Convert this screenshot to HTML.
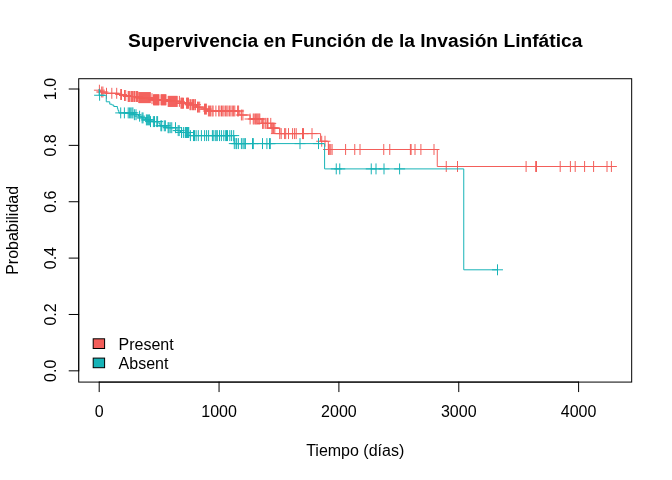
<!DOCTYPE html>
<html lang="es">
<head>
<meta charset="utf-8">
<title>Supervivencia en Función de la Invasión Linfática</title>
<style>html,body{margin:0;padding:0;background:#fff}svg{display:block;will-change:transform}</style>
</head>
<body>
<svg width="672" height="480" viewBox="0 0 672 480">
<rect width="672" height="480" fill="#fff"/>
<g fill="none" stroke-width="1" stroke-linecap="round" stroke-linejoin="round">
<path stroke="#F35E5A" d="M99.20,89.00H99.20V90.20H100.50V92.00H105.00V93.30H119.00V94.50H123.00V95.50H127.50V96.50H138.30V97.60H151.50V98.70H153.00V99.80H167.50V101.40H180.30V103.20H189.30V104.70H196.50V107.10H200.50V108.00H203.80V109.10H207.30V111.00H239.80V115.00H250.00V119.00H261.30V123.40H271.20V128.10H279.75V133.60H320.60V141.25H328.30V149.50H437.25V166.50H611.40"/>
<g stroke="#F35E5A">
<path d="M94.31,90.20h10.18M99.40,85.11v10.18"/>
<path d="M96.61,92.00h10.18M101.70,86.91v10.18"/>
<path d="M97.81,92.00h10.18M102.90,86.91v10.18"/>
<path d="M101.41,93.30h10.18M106.50,88.21v10.18"/>
<path d="M106.71,93.30h10.18M111.80,88.21v10.18"/>
<path d="M111.61,93.30h10.18M116.70,88.21v10.18"/>
<path d="M115.61,94.50h10.18M120.70,89.41v10.18"/>
<path d="M116.41,94.50h10.18M121.50,89.41v10.18"/>
<path d="M119.41,95.50h10.18M124.50,90.41v10.18"/>
<path d="M120.61,95.50h10.18M125.70,90.41v10.18"/>
<path d="M123.11,96.50h10.18M128.20,91.41v10.18"/>
<path d="M123.61,96.50h10.18M128.70,91.41v10.18"/>
<path d="M124.31,96.50h10.18M129.40,91.41v10.18"/>
<path d="M125.91,96.50h10.18M131.00,91.41v10.18"/>
<path d="M126.31,96.50h10.18M131.40,91.41v10.18"/>
<path d="M127.51,96.50h10.18M132.60,91.41v10.18"/>
<path d="M127.91,96.50h10.18M133.00,91.41v10.18"/>
<path d="M129.01,96.50h10.18M134.10,91.41v10.18"/>
<path d="M129.41,96.50h10.18M134.50,91.41v10.18"/>
<path d="M130.91,96.50h10.18M136.00,91.41v10.18"/>
<path d="M131.31,96.50h10.18M136.40,91.41v10.18"/>
<path d="M132.16,96.50h10.18M137.25,91.41v10.18"/>
<path d="M132.61,96.50h10.18M137.70,91.41v10.18"/>
<path d="M133.71,97.60h10.18M138.80,92.51v10.18"/>
<path d="M134.21,97.60h10.18M139.30,92.51v10.18"/>
<path d="M134.71,97.60h10.18M139.80,92.51v10.18"/>
<path d="M135.21,97.60h10.18M140.30,92.51v10.18"/>
<path d="M135.71,97.60h10.18M140.80,92.51v10.18"/>
<path d="M136.21,97.60h10.18M141.30,92.51v10.18"/>
<path d="M136.71,97.60h10.18M141.80,92.51v10.18"/>
<path d="M137.21,97.60h10.18M142.30,92.51v10.18"/>
<path d="M137.71,97.60h10.18M142.80,92.51v10.18"/>
<path d="M138.21,97.60h10.18M143.30,92.51v10.18"/>
<path d="M138.71,97.60h10.18M143.80,92.51v10.18"/>
<path d="M139.21,97.60h10.18M144.30,92.51v10.18"/>
<path d="M139.71,97.60h10.18M144.80,92.51v10.18"/>
<path d="M140.21,97.60h10.18M145.30,92.51v10.18"/>
<path d="M140.71,97.60h10.18M145.80,92.51v10.18"/>
<path d="M141.21,97.60h10.18M146.30,92.51v10.18"/>
<path d="M141.71,97.60h10.18M146.80,92.51v10.18"/>
<path d="M142.21,97.60h10.18M147.30,92.51v10.18"/>
<path d="M142.71,97.60h10.18M147.80,92.51v10.18"/>
<path d="M143.21,97.60h10.18M148.30,92.51v10.18"/>
<path d="M143.71,97.60h10.18M148.80,92.51v10.18"/>
<path d="M144.21,97.60h10.18M149.30,92.51v10.18"/>
<path d="M144.71,97.60h10.18M149.80,92.51v10.18"/>
<path d="M145.21,97.60h10.18M150.30,92.51v10.18"/>
<path d="M146.91,98.70h10.18M152.00,93.61v10.18"/>
<path d="M148.41,99.80h10.18M153.50,94.71v10.18"/>
<path d="M148.91,99.80h10.18M154.00,94.71v10.18"/>
<path d="M149.41,99.80h10.18M154.50,94.71v10.18"/>
<path d="M149.91,99.80h10.18M155.00,94.71v10.18"/>
<path d="M150.41,99.80h10.18M155.50,94.71v10.18"/>
<path d="M150.91,99.80h10.18M156.00,94.71v10.18"/>
<path d="M151.41,99.80h10.18M156.50,94.71v10.18"/>
<path d="M151.91,99.80h10.18M157.00,94.71v10.18"/>
<path d="M152.41,99.80h10.18M157.50,94.71v10.18"/>
<path d="M152.91,99.80h10.18M158.00,94.71v10.18"/>
<path d="M153.41,99.80h10.18M158.50,94.71v10.18"/>
<path d="M153.91,99.80h10.18M159.00,94.71v10.18"/>
<path d="M155.91,99.80h10.18M161.00,94.71v10.18"/>
<path d="M156.41,99.80h10.18M161.50,94.71v10.18"/>
<path d="M156.91,99.80h10.18M162.00,94.71v10.18"/>
<path d="M157.41,99.80h10.18M162.50,94.71v10.18"/>
<path d="M157.91,99.80h10.18M163.00,94.71v10.18"/>
<path d="M158.41,99.80h10.18M163.50,94.71v10.18"/>
<path d="M158.91,99.80h10.18M164.00,94.71v10.18"/>
<path d="M159.41,99.80h10.18M164.50,94.71v10.18"/>
<path d="M159.91,99.80h10.18M165.00,94.71v10.18"/>
<path d="M160.41,99.80h10.18M165.50,94.71v10.18"/>
<path d="M160.91,99.80h10.18M166.00,94.71v10.18"/>
<path d="M163.11,101.40h10.18M168.20,96.31v10.18"/>
<path d="M163.61,101.40h10.18M168.70,96.31v10.18"/>
<path d="M164.11,101.40h10.18M169.20,96.31v10.18"/>
<path d="M164.61,101.40h10.18M169.70,96.31v10.18"/>
<path d="M165.11,101.40h10.18M170.20,96.31v10.18"/>
<path d="M165.61,101.40h10.18M170.70,96.31v10.18"/>
<path d="M166.11,101.40h10.18M171.20,96.31v10.18"/>
<path d="M166.61,101.40h10.18M171.70,96.31v10.18"/>
<path d="M167.11,101.40h10.18M172.20,96.31v10.18"/>
<path d="M167.61,101.40h10.18M172.70,96.31v10.18"/>
<path d="M168.11,101.40h10.18M173.20,96.31v10.18"/>
<path d="M168.61,101.40h10.18M173.70,96.31v10.18"/>
<path d="M169.11,101.40h10.18M174.20,96.31v10.18"/>
<path d="M169.61,101.40h10.18M174.70,96.31v10.18"/>
<path d="M170.11,101.40h10.18M175.20,96.31v10.18"/>
<path d="M170.61,101.40h10.18M175.70,96.31v10.18"/>
<path d="M171.11,101.40h10.18M176.20,96.31v10.18"/>
<path d="M171.61,101.40h10.18M176.70,96.31v10.18"/>
<path d="M172.11,101.40h10.18M177.20,96.31v10.18"/>
<path d="M174.31,101.40h10.18M179.40,96.31v10.18"/>
<path d="M175.91,103.20h10.18M181.00,98.11v10.18"/>
<path d="M176.31,103.20h10.18M181.40,98.11v10.18"/>
<path d="M177.16,103.20h10.18M182.25,98.11v10.18"/>
<path d="M177.51,103.20h10.18M182.60,98.11v10.18"/>
<path d="M178.41,103.20h10.18M183.50,98.11v10.18"/>
<path d="M181.51,103.20h10.18M186.60,98.11v10.18"/>
<path d="M181.91,103.20h10.18M187.00,98.11v10.18"/>
<path d="M182.41,103.20h10.18M187.50,98.11v10.18"/>
<path d="M182.91,103.20h10.18M188.00,98.11v10.18"/>
<path d="M183.41,103.20h10.18M188.50,98.11v10.18"/>
<path d="M184.91,104.70h10.18M190.00,99.61v10.18"/>
<path d="M185.31,104.70h10.18M190.40,99.61v10.18"/>
<path d="M186.91,104.70h10.18M192.00,99.61v10.18"/>
<path d="M187.31,104.70h10.18M192.40,99.61v10.18"/>
<path d="M188.41,104.70h10.18M193.50,99.61v10.18"/>
<path d="M188.81,104.70h10.18M193.90,99.61v10.18"/>
<path d="M189.91,104.70h10.18M195.00,99.61v10.18"/>
<path d="M190.31,104.70h10.18M195.40,99.61v10.18"/>
<path d="M192.41,107.10h10.18M197.50,102.01v10.18"/>
<path d="M193.51,107.10h10.18M198.60,102.01v10.18"/>
<path d="M194.61,107.10h10.18M199.70,102.01v10.18"/>
<path d="M199.41,109.10h10.18M204.50,104.01v10.18"/>
<path d="M200.41,109.10h10.18M205.50,104.01v10.18"/>
<path d="M201.31,109.10h10.18M206.40,104.01v10.18"/>
<path d="M203.31,111.00h10.18M208.40,105.91v10.18"/>
<path d="M204.51,111.00h10.18M209.60,105.91v10.18"/>
<path d="M205.51,111.00h10.18M210.60,105.91v10.18"/>
<path d="M207.01,111.00h10.18M212.10,105.91v10.18"/>
<path d="M208.01,111.00h10.18M213.10,105.91v10.18"/>
<path d="M210.81,111.00h10.18M215.90,105.91v10.18"/>
<path d="M213.61,111.00h10.18M218.70,105.91v10.18"/>
<path d="M214.81,111.00h10.18M219.90,105.91v10.18"/>
<path d="M216.41,111.00h10.18M221.50,105.91v10.18"/>
<path d="M217.66,111.00h10.18M222.75,105.91v10.18"/>
<path d="M218.91,111.00h10.18M224.00,105.91v10.18"/>
<path d="M220.51,111.00h10.18M225.60,105.91v10.18"/>
<path d="M221.71,111.00h10.18M226.80,105.91v10.18"/>
<path d="M222.91,111.00h10.18M228.00,105.91v10.18"/>
<path d="M224.51,111.00h10.18M229.60,105.91v10.18"/>
<path d="M225.81,111.00h10.18M230.90,105.91v10.18"/>
<path d="M227.21,111.00h10.18M232.30,105.91v10.18"/>
<path d="M228.51,111.00h10.18M233.60,105.91v10.18"/>
<path d="M229.71,111.00h10.18M234.80,105.91v10.18"/>
<path d="M232.51,111.00h10.18M237.60,105.91v10.18"/>
<path d="M233.51,111.00h10.18M238.60,105.91v10.18"/>
<path d="M236.31,115.00h10.18M241.40,109.91v10.18"/>
<path d="M237.81,115.00h10.18M242.90,109.91v10.18"/>
<path d="M245.01,119.00h10.18M250.10,113.91v10.18"/>
<path d="M248.16,119.00h10.18M253.25,113.91v10.18"/>
<path d="M249.11,119.00h10.18M254.20,113.91v10.18"/>
<path d="M250.31,119.00h10.18M255.40,113.91v10.18"/>
<path d="M251.21,119.00h10.18M256.30,113.91v10.18"/>
<path d="M252.11,119.00h10.18M257.20,113.91v10.18"/>
<path d="M253.01,119.00h10.18M258.10,113.91v10.18"/>
<path d="M253.91,119.00h10.18M259.00,113.91v10.18"/>
<path d="M254.71,119.00h10.18M259.80,113.91v10.18"/>
<path d="M257.51,123.40h10.18M262.60,118.31v10.18"/>
<path d="M258.16,123.40h10.18M263.25,118.31v10.18"/>
<path d="M260.01,123.40h10.18M265.10,118.31v10.18"/>
<path d="M260.91,123.40h10.18M266.00,118.31v10.18"/>
<path d="M262.41,123.40h10.18M267.50,118.31v10.18"/>
<path d="M262.91,123.40h10.18M268.00,118.31v10.18"/>
<path d="M265.66,123.40h10.18M270.75,118.31v10.18"/>
<path d="M266.81,128.10h10.18M271.90,123.01v10.18"/>
<path d="M267.66,128.10h10.18M272.75,123.01v10.18"/>
<path d="M268.51,128.10h10.18M273.60,123.01v10.18"/>
<path d="M269.71,128.10h10.18M274.80,123.01v10.18"/>
<path d="M274.66,133.60h10.18M279.75,128.51v10.18"/>
<path d="M276.11,133.60h10.18M281.20,128.51v10.18"/>
<path d="M279.51,133.60h10.18M284.60,128.51v10.18"/>
<path d="M280.61,133.60h10.18M285.70,128.51v10.18"/>
<path d="M283.41,133.60h10.18M288.50,128.51v10.18"/>
<path d="M287.51,133.60h10.18M292.60,128.51v10.18"/>
<path d="M289.51,133.60h10.18M294.60,128.51v10.18"/>
<path d="M291.11,133.60h10.18M296.20,128.51v10.18"/>
<path d="M297.41,133.60h10.18M302.50,128.51v10.18"/>
<path d="M298.41,133.60h10.18M303.50,128.51v10.18"/>
<path d="M306.91,133.60h10.18M312.00,128.51v10.18"/>
<path d="M316.61,141.25h10.18M321.70,136.16v10.18"/>
<path d="M319.91,141.25h10.18M325.00,136.16v10.18"/>
<path d="M323.41,149.50h10.18M328.50,144.41v10.18"/>
<path d="M324.61,149.50h10.18M329.70,144.41v10.18"/>
<path d="M325.71,149.50h10.18M330.80,144.41v10.18"/>
<path d="M327.01,149.50h10.18M332.10,144.41v10.18"/>
<path d="M340.51,149.50h10.18M345.60,144.41v10.18"/>
<path d="M349.66,149.50h10.18M354.75,144.41v10.18"/>
<path d="M354.91,149.50h10.18M360.00,144.41v10.18"/>
<path d="M378.66,149.50h10.18M383.75,144.41v10.18"/>
<path d="M384.66,149.50h10.18M389.75,144.41v10.18"/>
<path d="M405.31,149.50h10.18M410.40,144.41v10.18"/>
<path d="M406.01,149.50h10.18M411.10,144.41v10.18"/>
<path d="M409.91,149.50h10.18M415.00,144.41v10.18"/>
<path d="M415.81,149.50h10.18M420.90,144.41v10.18"/>
<path d="M428.91,149.50h10.18M434.00,144.41v10.18"/>
<path d="M441.16,166.50h10.18M446.25,161.41v10.18"/>
<path d="M452.41,166.50h10.18M457.50,161.41v10.18"/>
<path d="M521.01,166.50h10.18M526.10,161.41v10.18"/>
<path d="M530.61,166.50h10.18M535.70,161.41v10.18"/>
<path d="M531.41,166.50h10.18M536.50,161.41v10.18"/>
<path d="M555.11,166.50h10.18M560.20,161.41v10.18"/>
<path d="M565.31,166.50h10.18M570.40,161.41v10.18"/>
<path d="M570.11,166.50h10.18M575.20,161.41v10.18"/>
<path d="M579.51,166.50h10.18M584.60,161.41v10.18"/>
<path d="M588.51,166.50h10.18M593.60,161.41v10.18"/>
<path d="M601.91,166.50h10.18M607.00,161.41v10.18"/>
<path d="M606.31,166.50h10.18M611.40,161.41v10.18"/>
</g>
<path stroke="#F35E5A" d="M271.30,133.60H279.75"/>
<path stroke="#17B3B7" d="M99.20,89.00H99.20V95.25H106.25V101.80H109.75V104.20H111.80V105.00H113.75V106.50H117.40V108.50H118.00V110.50H118.80V112.90H133.60V114.70H138.50V116.20H141.30V117.90H145.50V119.90H149.90V121.60H159.00V123.70H160.00V125.80H167.00V127.70H177.00V130.60H180.50V132.50H190.00V135.60H234.20V143.60H324.60V168.90H463.75V269.80H497.50"/>
<g stroke="#17B3B7">
<path d="M94.51,95.25h10.18M99.60,90.16v10.18"/>
<path d="M115.61,112.90h10.18M120.70,107.81v10.18"/>
<path d="M119.31,112.90h10.18M124.40,107.81v10.18"/>
<path d="M123.11,112.90h10.18M128.20,107.81v10.18"/>
<path d="M124.31,112.90h10.18M129.40,107.81v10.18"/>
<path d="M125.61,112.90h10.18M130.70,107.81v10.18"/>
<path d="M126.81,112.90h10.18M131.90,107.81v10.18"/>
<path d="M127.81,112.90h10.18M132.90,107.81v10.18"/>
<path d="M129.31,114.70h10.18M134.40,109.61v10.18"/>
<path d="M130.91,114.70h10.18M136.00,109.61v10.18"/>
<path d="M134.51,116.20h10.18M139.60,111.11v10.18"/>
<path d="M137.01,117.90h10.18M142.10,112.81v10.18"/>
<path d="M137.91,117.90h10.18M143.00,112.81v10.18"/>
<path d="M141.31,119.90h10.18M146.40,114.81v10.18"/>
<path d="M142.31,119.90h10.18M147.40,114.81v10.18"/>
<path d="M143.51,119.90h10.18M148.60,114.81v10.18"/>
<path d="M144.51,119.90h10.18M149.60,114.81v10.18"/>
<path d="M145.41,121.60h10.18M150.50,116.51v10.18"/>
<path d="M148.31,121.60h10.18M153.40,116.51v10.18"/>
<path d="M149.41,121.60h10.18M154.50,116.51v10.18"/>
<path d="M151.71,121.60h10.18M156.80,116.51v10.18"/>
<path d="M152.51,121.60h10.18M157.60,116.51v10.18"/>
<path d="M155.81,125.80h10.18M160.90,120.71v10.18"/>
<path d="M156.61,125.80h10.18M161.70,120.71v10.18"/>
<path d="M159.21,125.80h10.18M164.30,120.71v10.18"/>
<path d="M160.31,125.80h10.18M165.40,120.71v10.18"/>
<path d="M163.01,127.70h10.18M168.10,122.61v10.18"/>
<path d="M163.81,127.70h10.18M168.90,122.61v10.18"/>
<path d="M165.11,127.70h10.18M170.20,122.61v10.18"/>
<path d="M166.66,127.70h10.18M171.75,122.61v10.18"/>
<path d="M170.41,127.70h10.18M175.50,122.61v10.18"/>
<path d="M173.11,130.60h10.18M178.20,125.51v10.18"/>
<path d="M174.11,130.60h10.18M179.20,125.51v10.18"/>
<path d="M176.41,132.50h10.18M181.50,127.41v10.18"/>
<path d="M178.31,132.50h10.18M183.40,127.41v10.18"/>
<path d="M180.16,132.50h10.18M185.25,127.41v10.18"/>
<path d="M180.66,132.50h10.18M185.75,127.41v10.18"/>
<path d="M181.16,132.50h10.18M186.25,127.41v10.18"/>
<path d="M181.66,132.50h10.18M186.75,127.41v10.18"/>
<path d="M182.16,132.50h10.18M187.25,127.41v10.18"/>
<path d="M182.66,132.50h10.18M187.75,127.41v10.18"/>
<path d="M183.16,132.50h10.18M188.25,127.41v10.18"/>
<path d="M183.66,132.50h10.18M188.75,127.41v10.18"/>
<path d="M185.31,135.60h10.18M190.40,130.51v10.18"/>
<path d="M188.41,135.60h10.18M193.50,130.51v10.18"/>
<path d="M189.41,135.60h10.18M194.50,130.51v10.18"/>
<path d="M191.01,135.60h10.18M196.10,130.51v10.18"/>
<path d="M193.21,135.60h10.18M198.30,130.51v10.18"/>
<path d="M196.31,135.60h10.18M201.40,130.51v10.18"/>
<path d="M199.51,135.60h10.18M204.60,130.51v10.18"/>
<path d="M201.51,135.60h10.18M206.60,130.51v10.18"/>
<path d="M203.51,135.60h10.18M208.60,130.51v10.18"/>
<path d="M207.31,135.60h10.18M212.40,130.51v10.18"/>
<path d="M208.11,135.60h10.18M213.20,130.51v10.18"/>
<path d="M210.11,135.60h10.18M215.20,130.51v10.18"/>
<path d="M211.11,135.60h10.18M216.20,130.51v10.18"/>
<path d="M212.21,135.60h10.18M217.30,130.51v10.18"/>
<path d="M214.41,135.60h10.18M219.50,130.51v10.18"/>
<path d="M216.31,135.60h10.18M221.40,130.51v10.18"/>
<path d="M218.71,135.60h10.18M223.80,130.51v10.18"/>
<path d="M220.61,135.60h10.18M225.70,130.51v10.18"/>
<path d="M221.41,135.60h10.18M226.50,130.51v10.18"/>
<path d="M222.41,135.60h10.18M227.50,130.51v10.18"/>
<path d="M224.71,135.60h10.18M229.80,130.51v10.18"/>
<path d="M226.51,135.60h10.18M231.60,130.51v10.18"/>
<path d="M228.61,135.60h10.18M233.70,130.51v10.18"/>
<path d="M229.21,143.60h10.18M234.30,138.51v10.18"/>
<path d="M230.91,143.60h10.18M236.00,138.51v10.18"/>
<path d="M231.61,143.60h10.18M236.70,138.51v10.18"/>
<path d="M233.31,143.60h10.18M238.40,138.51v10.18"/>
<path d="M236.31,143.60h10.18M241.40,138.51v10.18"/>
<path d="M237.91,143.60h10.18M243.00,138.51v10.18"/>
<path d="M239.11,143.60h10.18M244.20,138.51v10.18"/>
<path d="M240.31,143.60h10.18M245.40,138.51v10.18"/>
<path d="M247.41,143.60h10.18M252.50,138.51v10.18"/>
<path d="M248.21,143.60h10.18M253.30,138.51v10.18"/>
<path d="M257.41,143.60h10.18M262.50,138.51v10.18"/>
<path d="M261.81,143.60h10.18M266.90,138.51v10.18"/>
<path d="M264.41,143.60h10.18M269.50,138.51v10.18"/>
<path d="M265.21,143.60h10.18M270.30,138.51v10.18"/>
<path d="M294.91,143.60h10.18M300.00,138.51v10.18"/>
<path d="M313.41,143.60h10.18M318.50,138.51v10.18"/>
<path d="M331.16,168.90h10.18M336.25,163.81v10.18"/>
<path d="M334.66,168.90h10.18M339.75,163.81v10.18"/>
<path d="M366.16,168.90h10.18M371.25,163.81v10.18"/>
<path d="M370.91,168.90h10.18M376.00,163.81v10.18"/>
<path d="M378.91,168.90h10.18M384.00,163.81v10.18"/>
<path d="M394.51,168.90h10.18M399.60,163.81v10.18"/>
<path d="M492.41,269.80h10.18M497.50,264.71v10.18"/>
</g>
</g>
<g fill="none" stroke="#000" stroke-width="1" stroke-linecap="round">
<path d="M99.20,382.08H578.60M99.20,382.08v9.6M219.05,382.08v9.6M338.90,382.08v9.6M458.75,382.08v9.6M578.60,382.08v9.6"/>
<path d="M78.72,370.84V89.00M78.72,370.84h-9.6M78.72,314.47h-9.6M78.72,258.10h-9.6M78.72,201.74h-9.6M78.72,145.37h-9.6M78.72,89.00h-9.6"/>
<rect x="78.72" y="78.72" width="552.96" height="303.36"/>
</g>
<g font-family="'Liberation Sans', Arial, Helvetica, sans-serif" font-size="16" fill="#000">
<text x="99.20" y="417.2" text-anchor="middle">0</text>
<text x="219.05" y="417.2" text-anchor="middle">1000</text>
<text x="338.90" y="417.2" text-anchor="middle">2000</text>
<text x="458.75" y="417.2" text-anchor="middle">3000</text>
<text x="578.60" y="417.2" text-anchor="middle">4000</text>
<text transform="translate(55.9,370.84) rotate(-90)" text-anchor="middle">0.0</text>
<text transform="translate(55.9,314.47) rotate(-90)" text-anchor="middle">0.2</text>
<text transform="translate(55.9,258.10) rotate(-90)" text-anchor="middle">0.4</text>
<text transform="translate(55.9,201.74) rotate(-90)" text-anchor="middle">0.6</text>
<text transform="translate(55.9,145.37) rotate(-90)" text-anchor="middle">0.8</text>
<text transform="translate(55.9,89.00) rotate(-90)" text-anchor="middle">1.0</text>
<text x="355.2" y="455.8" text-anchor="middle">Tiempo (días)</text>
<text transform="translate(17.5,230.4) rotate(-90)" text-anchor="middle">Probabilidad</text>
<text x="355.2" y="47.0" text-anchor="middle" font-size="19.2" font-weight="bold">Supervivencia en Función de la Invasión Linfática</text>
<rect x="93.2" y="338.8" width="11.4" height="9.7" fill="#F35E5A" stroke="#000" stroke-width="1"/>
<rect x="93.2" y="358.1" width="11.4" height="9.6" fill="#17B3B7" stroke="#000" stroke-width="1"/>
<text x="118.5" y="350.2">Present</text>
<text x="118.6" y="368.7">Absent</text>
</g>
</svg>
</body>
</html>
